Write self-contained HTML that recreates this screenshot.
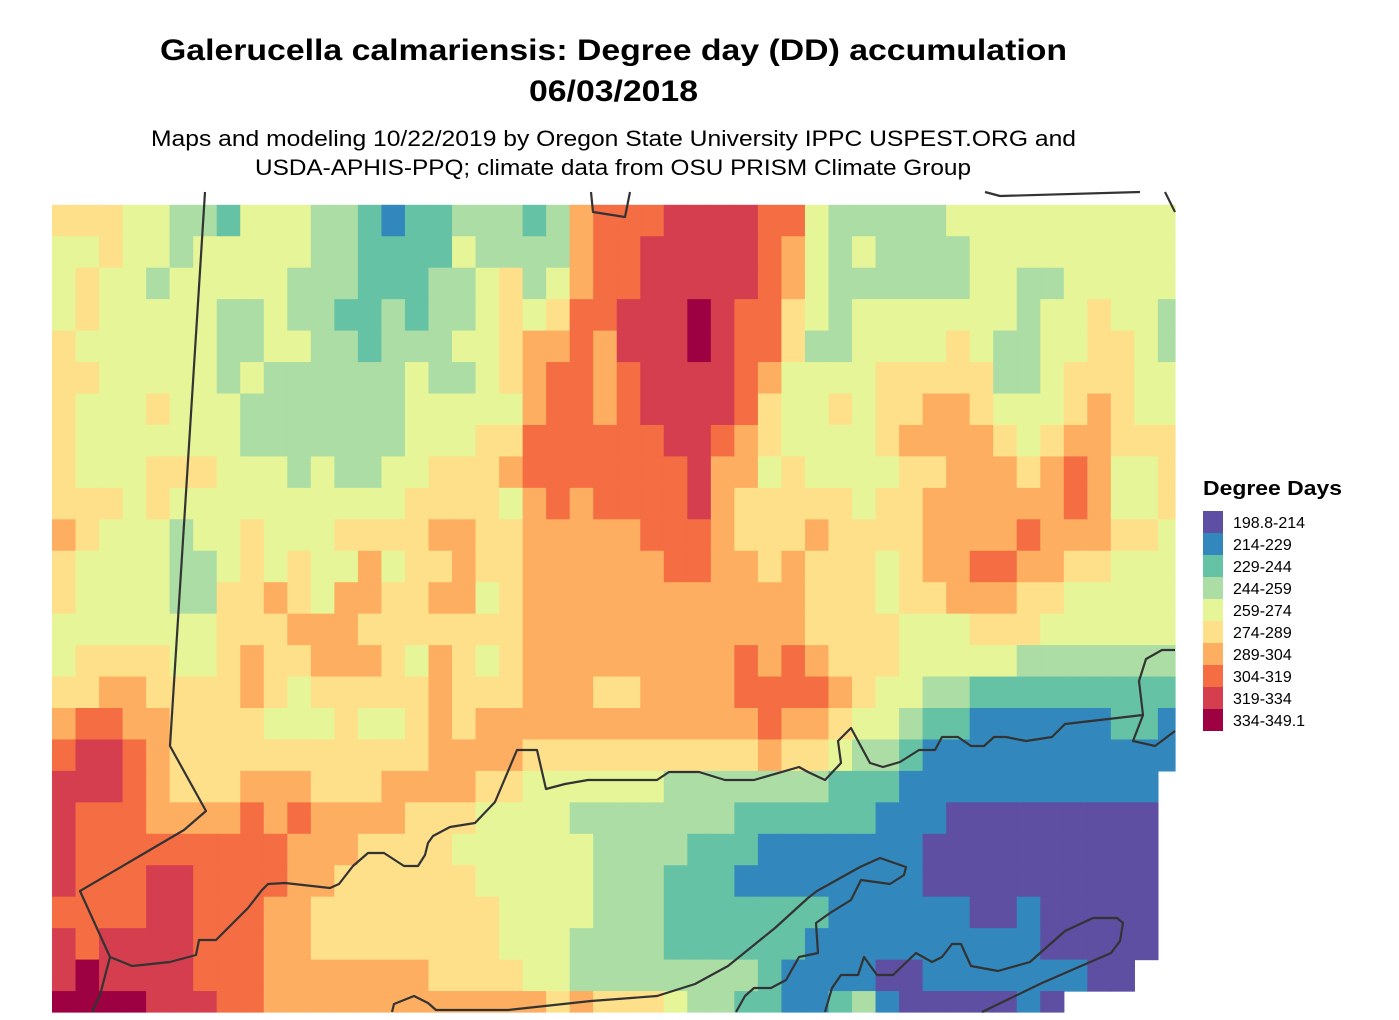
<!DOCTYPE html>
<html><head><meta charset="utf-8"><style>
body{margin:0;background:#fff;width:1399px;height:1020px;overflow:hidden;font-family:"Liberation Sans",Arial,sans-serif}
</style></head><body>
<svg id="s" width="1399" height="1020" xmlns="http://www.w3.org/2000/svg" style="position:absolute;left:0;top:0">
<text x="160" y="60" textLength="907" lengthAdjust="spacingAndGlyphs" font-size="30" font-weight="bold" font-family="Liberation Sans, sans-serif">Galerucella calmariensis: Degree day (DD) accumulation</text>
<text x="529" y="101" textLength="169" lengthAdjust="spacingAndGlyphs" font-size="30" font-weight="bold" font-family="Liberation Sans, sans-serif">06/03/2018</text>
<text x="151" y="146" textLength="925" lengthAdjust="spacingAndGlyphs" font-size="22" font-family="Liberation Sans, sans-serif">Maps and modeling 10/22/2019 by Oregon State University IPPC USPEST.ORG and</text>
<text x="255" y="175" textLength="716" lengthAdjust="spacingAndGlyphs" font-size="22" font-family="Liberation Sans, sans-serif">USDA-APHIS-PPQ; climate data from OSU PRISM Climate Group</text>
<g id="grid"></g>
<g fill="none" stroke="#333" stroke-width="2.2" stroke-linejoin="round">
<polyline points="205,192 170,746 206,811 184,830 80,891 110,957 100,995 92,1012"/>
<polyline points="110,957 132,966 170,962 196,955 199,940 216,940 236,920 248,908 262,890 268,884 285,883 330,888 339,884 353,866 368,853 384,853 404,866 418,866 425,855 428,843 433,836 450,827 475,823 495,802 517,750 537,750 546,789 565,784 588,780 657,780 669,772 699,772 725,780 754,780 799,767 808,772 825,780 841,763 838,741 851,728 870,763 883,767 900,762 919,750 935,750 942,737 958,737 971,746 984,746 994,737 1006,737 1026,741 1052,737 1065,724 1143,715 1139,681 1146,659 1162,650 1175,650"/>
<polyline points="1143,715 1133,741 1155,746 1175,731"/>
<polyline points="392,1012 394,1004 414,996 428,1003 436,1010 508,1010 591,1001 657,996 695,984 728,966 775,928 808,898 817,891 860,867 880,858 906,867 904,875 890,884 861,880 851,900 830,913 816,923 818,953 799,957 786,980 771,988 754,988 745,996 736,1012"/>
<polyline points="825,1012 832,988 841,975 858,975 864,957 877,975 893,975 916,953 932,962 942,957 952,944 961,944 971,966 998,971 1030,962 1065,931 1093,918 1117,918 1123,923 1120,941 1111,953 1042,983 982,1012"/>
<polyline points="591,192 593,212 625,217 630,192"/>
<polyline points="985,192 1000,196 1140,192"/>
<polyline points="1165,192 1175,212"/>
</g>
<text x="1203" y="495" textLength="139" lengthAdjust="spacingAndGlyphs" font-size="20" font-weight="bold" font-family="Liberation Sans, sans-serif">Degree Days</text>
<g id="leg" font-size="16" font-family="Liberation Sans, sans-serif"></g>
</svg>
<script>
var C={"0":"#5E4FA2","1":"#3288BD","2":"#66C2A5","3":"#ABDDA4","4":"#E6F598","5":"#FEE08B","6":"#FDAE61","7":"#F46D43","8":"#D53E4F","9":"#9E0142"};
var R=[
"555443324443321223332367778888774333334444444444",
"445443444443322224333367788888764343333444444444",
"454434444433322233453467788888764333333443344444",
"454444433433223233454577888987754344444443445443",
"544444433443323334456676888987753344445433445543",
"554444434333333433456776788887644445555533455544",
"544454443333333444446776788887544545566544456544",
"544444443333333444557777778876544445666654566555",
"544455544434334455567777777866454444556665676445",
"555454444444444555546767777865555545566666676445",
"654443445444555566556666677765556555566667666554",
"544443345454464556556666667766565554566776655444",
"544443355654665566456666666666665554556665544444",
"444444455566655555556666666666665555444555444444",
"455554456556665465456666666667676555444443333333",
"556655556545555565556665566667777654433222222222",
"677665555444544565666666666666766544322111111221",
"788765555555555566665555555555655433211111111111",
"88876555666555666655444444333333322211111111111w",
"87776666767666655544443333333222222111000000000w",
"87777777776665555444444333322211111110000000000w",
"87778877776655555544444333222111111110000000000w",
"77778877766555555554444333222222211111100100000w",
"87888877766555555554443333222222111111111100000w",
"8988887776666666555544333333332111100111111100ww",
"9999888776666666666665655543322112310000010wwwww"];
var g=document.getElementById('grid'),h='';
var cw=23.53,rh=31.45,x0=52,y0=204.8;
for(var r=0;r<R.length;r++){var s=R[r];for(var c=0;c<48;c++){var k=s[c];if(!C[k])continue;
var x=x0+c*cw,y=y0+r*rh,w=cw,hh=rh;if(x+w>1175)w=1175-x;if(y+hh>1012)hh=1012-y;
h+='<rect x="'+x.toFixed(2)+'" y="'+y.toFixed(2)+'" width="'+(w+0.6).toFixed(2)+'" height="'+(hh+0.6).toFixed(2)+'" fill="'+C[k]+'"/>';}}
g.innerHTML=h;
var labs=["198.8-214","214-229","229-244","244-259","259-274","274-289","289-304","304-319","319-334","334-349.1"];
var L='';for(var i=0;i<10;i++){var y=511+i*22;L+='<rect x="1203" y="'+y+'" width="20" height="22" fill="'+C[i]+'"/><text x="1233" y="'+(y+17)+'">'+labs[i]+'</text>';}
document.getElementById('leg').innerHTML=L;
</script>
</body></html>
